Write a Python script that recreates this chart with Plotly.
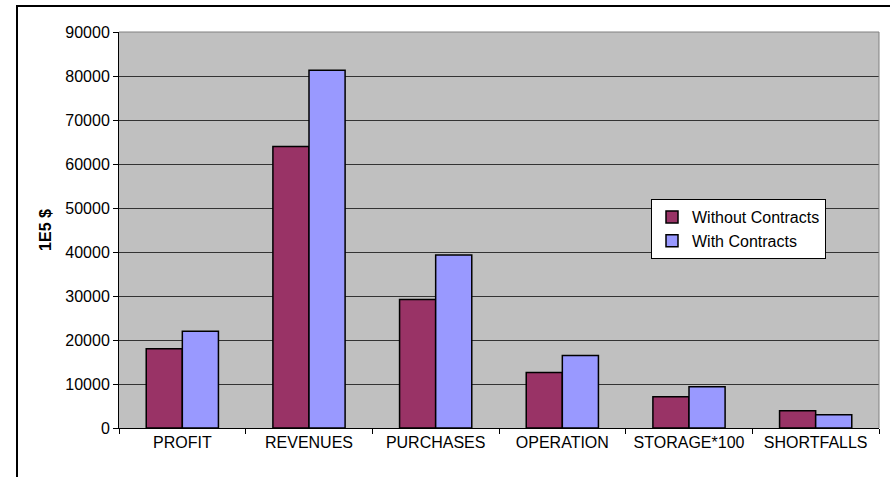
import plotly.graph_objects as go

categories = ["PROFIT", "REVENUES", "PURCHASES", "OPERATION", "STORAGE*100", "SHORTFALLS"]
without_contracts = [18000, 64000, 29200, 12600, 7100, 3900]
with_contracts = [22000, 81300, 39300, 16500, 9400, 3000]
y_ticks = [0, 10000, 20000, 30000, 40000, 50000, 60000, 70000, 80000, 90000]

fig = go.Figure()
fig.add_trace(go.Bar(
    x=categories, y=without_contracts, name="Without Contracts",
    marker=dict(color="#993366", line=dict(color="black", width=1.5)),
    legendgroup="a",
))
fig.add_trace(go.Bar(
    x=categories, y=with_contracts, name="With Contracts",
    marker=dict(color="#9999FF", line=dict(color="black", width=1.5)),
    legendgroup="b",
))

fig.update_layout(
    width=890, height=477,
    margin=dict(l=119, r=11, t=32, b=49),
    paper_bgcolor="white",
    plot_bgcolor="#C0C0C0",
    barmode="group",
    bargap=0.43,
    bargroupgap=0,
    font=dict(family="Arial, Liberation Sans, sans-serif", size=16, color="black"),
    legend=dict(
        x=(651 - 119) / 760, y=(428 - 199) / 396, xanchor="left", yanchor="top",
        bgcolor="white", bordercolor="black", borderwidth=1,
        font=dict(size=16),
        traceorder="grouped", tracegroupgap=0,
    ),
    xaxis=dict(
        showline=True, linecolor="black", linewidth=1,
        ticks="outside", tickson="boundaries", ticklen=5, tickcolor="black",
        mirror=False,
    ),
    yaxis=dict(
        range=[0, 90000], tickvals=y_ticks, tickformat="d",
        showline=True, linecolor="black", linewidth=1,
        ticks="outside", ticklen=5, tickcolor="black",
        showgrid=True, gridcolor="#333333", gridwidth=1,
        zeroline=False,
        title=dict(text="<b>1E5 $</b>", font=dict(size=16), standoff=9),
    ),
    shapes=[
        dict(type="rect", xref="paper", yref="paper",
             x0=(17 - 119) / 760, x1=1.03, y0=-0.14, y1=1 + 26 / 396,
             line=dict(color="black", width=2), fillcolor="rgba(0,0,0,0)", layer="below"),
        dict(type="line", xref="paper", yref="paper",
             x0=1, x1=1, y0=0, y1=1, line=dict(color="#808080", width=1)),
        dict(type="line", xref="paper", yref="paper",
             x0=0, x1=1, y0=1, y1=1, line=dict(color="#808080", width=1)),
    ],
)

fig.write_html("out.html", config={"displayModeBar": False},
               post_script="document.body.style.margin='0';")
